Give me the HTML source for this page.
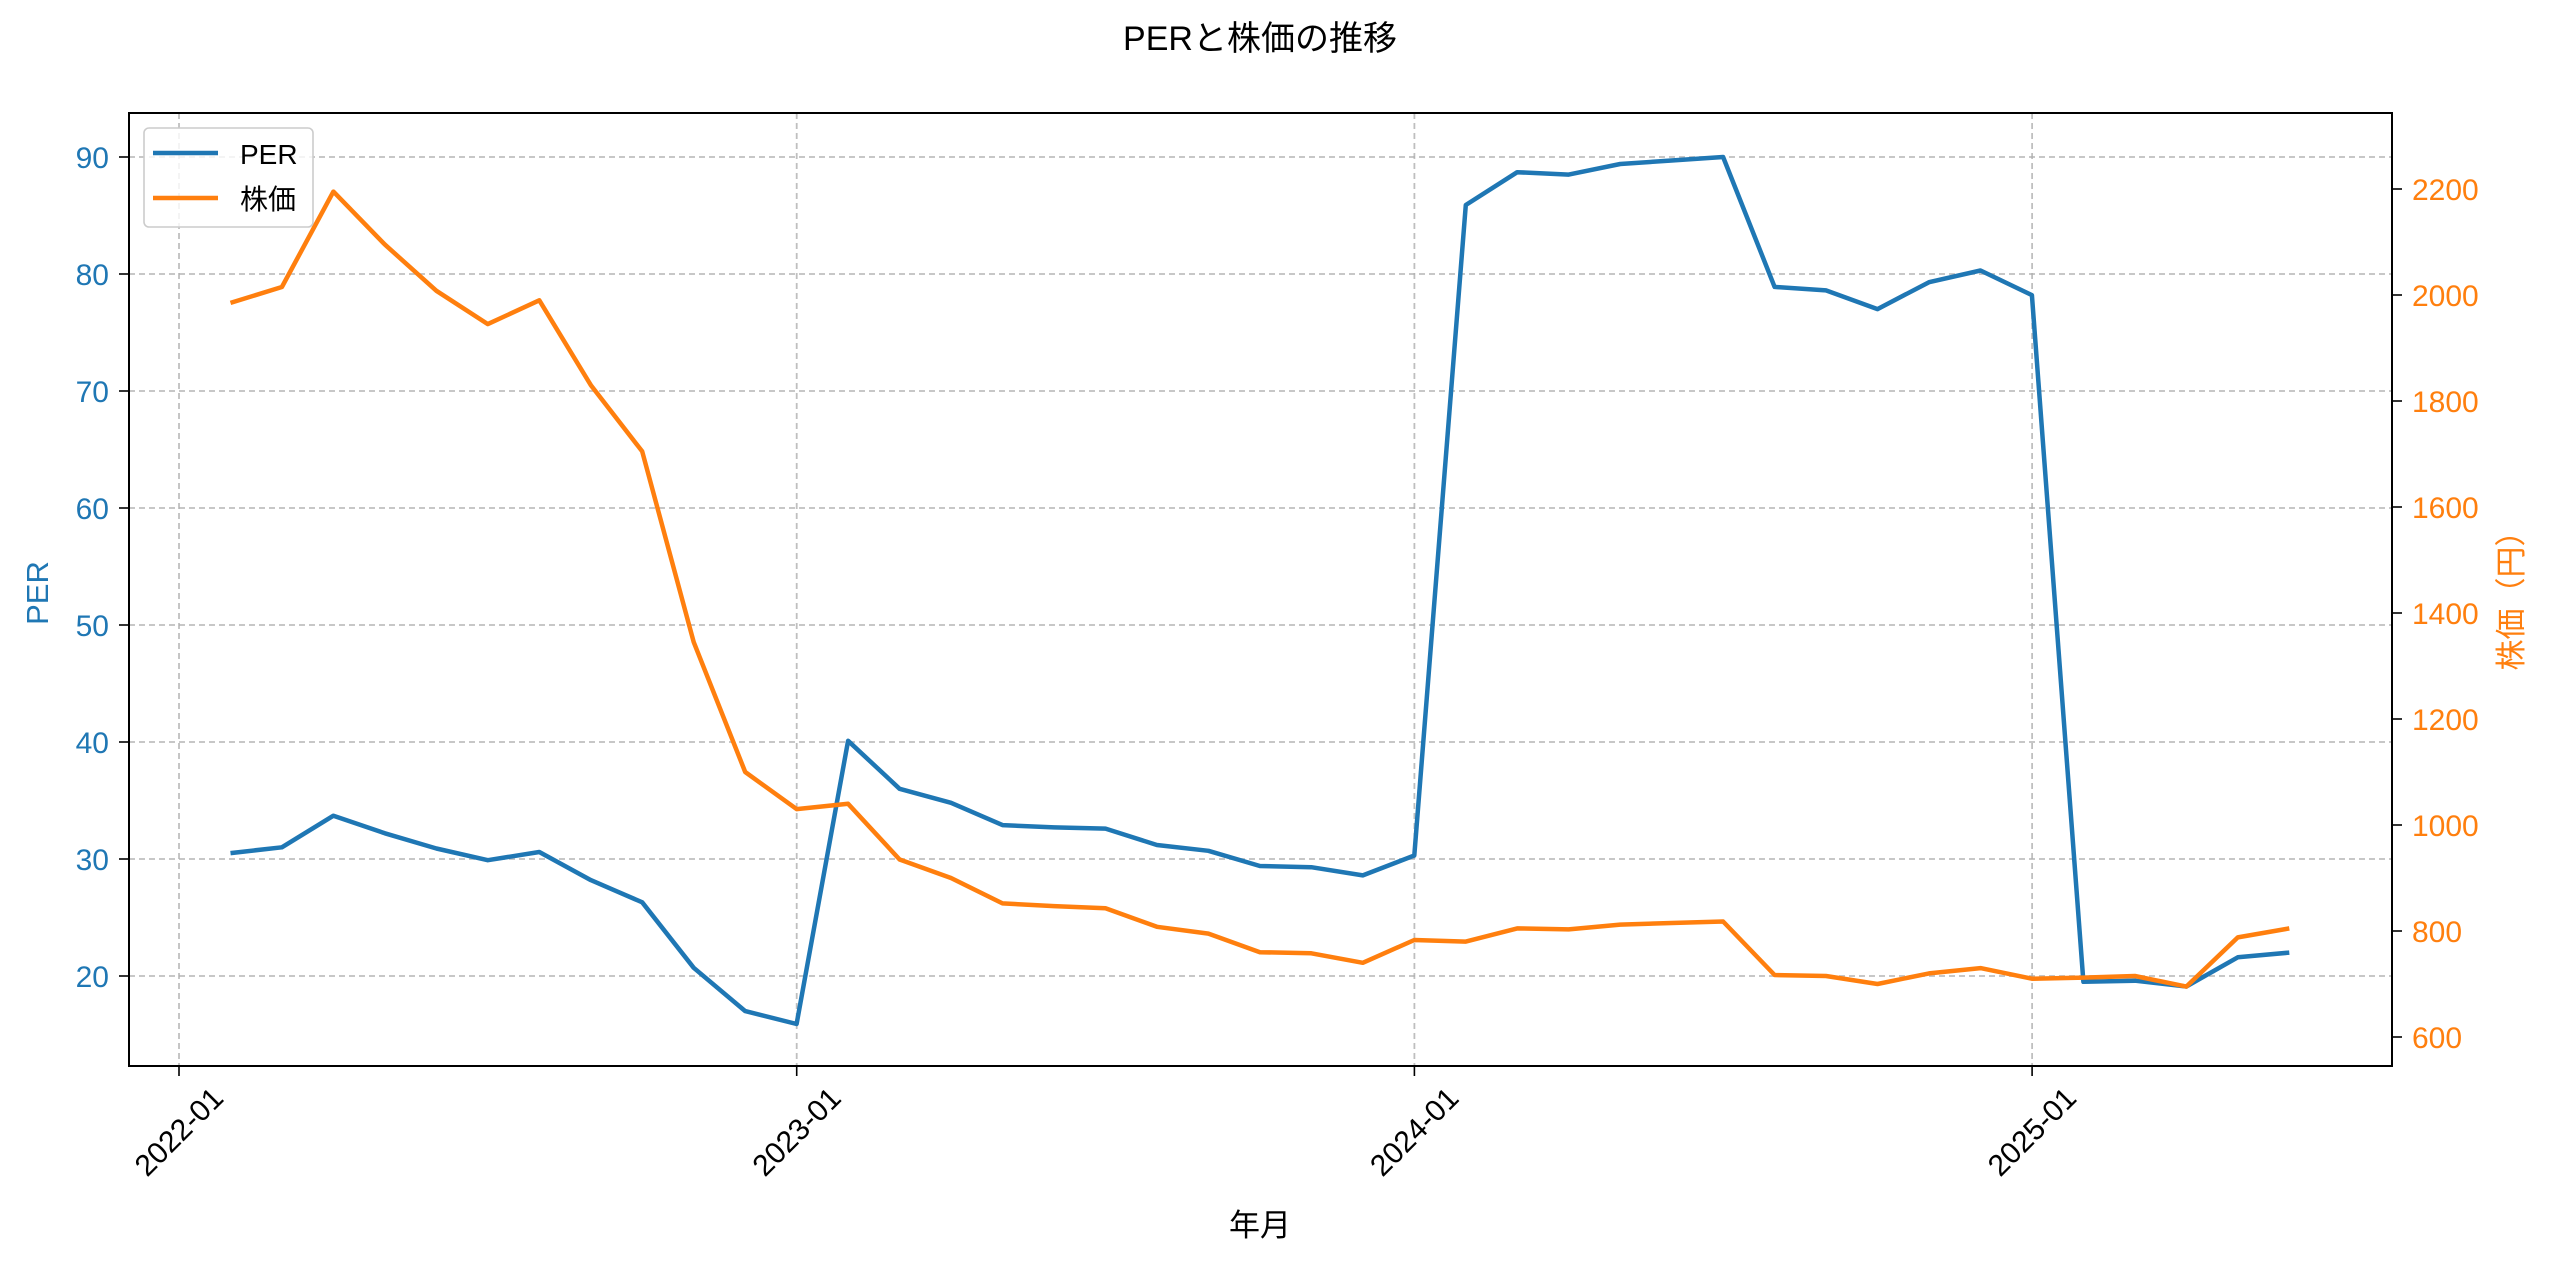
<!DOCTYPE html>
<html><head><meta charset="utf-8"><style>
html,body{margin:0;padding:0;background:#fff;}
svg text{font-family:"Liberation Sans","Noto Sans CJK JP",sans-serif;}
</style></head><body>
<svg id="s" width="2560" height="1269" xmlns="http://www.w3.org/2000/svg"></svg>
<script>
const per=[30.5,31,33.7,32.2,30.9,29.9,30.6,28.2,26.3,20.7,17.0,15.9,40.1,36.0,34.8,32.9,32.7,32.6,31.2,30.7,29.4,29.3,28.6,30.3,85.9,88.7,88.5,89.4,89.7,90.0,78.9,78.6,77.0,79.3,80.3,78.2,19.5,19.6,19.1,21.6,22.0];
const pr=[1985,2015,2195,2095,2008,1945,1990,1830,1705,1345,1100,1030,1040,935,900,852,847,843,808,795,760,758,740,783,780,805,803,812,815,818,717,715,700,720,730,710,712,715,695,788,805];
const L=129,R=2392,T=113,B=1066;
const X=i=>179+51.47*(i+1);
const YP=v=>157+(90-v)*11.7;
const YQ=p=>1037-(p-600)*0.53;
let h='';
for(let k=0;k<4;k++){const x=179+617.7*k;h+=`<line x1="${x}" y1="${T}" x2="${x}" y2="${B}" stroke="#b0b0b0" stroke-width="1.8" stroke-dasharray="6,4" opacity="0.8"/>`;}
for(let v=20;v<=90;v+=10){const y=YP(v);h+=`<line x1="${L}" y1="${y}" x2="${R}" y2="${y}" stroke="#b0b0b0" stroke-width="1.8" stroke-dasharray="6,4" opacity="0.8"/>`;
h+=`<line x1="${L-10}" y1="${y}" x2="${L}" y2="${y}" stroke="#000" stroke-width="1.6"/><text x="${L-20}" y="${y+11}" font-size="30" fill="#1f77b4" text-anchor="end">${v}</text>`;}
for(let p=600;p<=2200;p+=200){const y=YQ(p);h+=`<line x1="${R}" y1="${y}" x2="${R+10}" y2="${y}" stroke="#000" stroke-width="1.6"/><text x="${R+20}" y="${y+11}" font-size="30" fill="#ff7f0e">${p}</text>`;}
const yrs=['2022-01','2023-01','2024-01','2025-01'];
for(let k=0;k<4;k++){const x=179+617.7*k;h+=`<line x1="${x}" y1="${B}" x2="${x}" y2="${B+10}" stroke="#000" stroke-width="1.6"/><text transform="translate(${x+46},${B+34}) rotate(-45)" font-size="30" text-anchor="end">${yrs[k]}</text>`;}
const pl=(a,f,c)=>`<polyline fill="none" stroke="${c}" stroke-width="4.5" stroke-linejoin="round" points="${a.map((v,i)=>X(i).toFixed(1)+','+f(v).toFixed(1)).join(' ')}"/>`;
h+=pl(per,YP,'#1f77b4')+pl(pr,YQ,'#ff7f0e');
h+=`<rect x="${L}" y="${T}" width="${R-L}" height="${B-T}" fill="none" stroke="#000" stroke-width="2"/>`;
h+=`<rect x="144" y="128" width="169" height="99" rx="5" fill="#fff" fill-opacity="0.8" stroke="#ccc" stroke-width="1.6"/>`;
h+=`<line x1="153" y1="153" x2="218" y2="153" stroke="#1f77b4" stroke-width="4.5"/><text x="240" y="164" font-size="28">PER</text>`;
h+=`<line x1="153" y1="198" x2="218" y2="198" stroke="#ff7f0e" stroke-width="4.5"/><text x="240" y="209" font-size="28">株価</text>`;
h+=`<text x="1260" y="50" font-size="34" text-anchor="middle">PERと株価の推移</text>`;
h+=`<text x="1260" y="1236" font-size="31" text-anchor="middle">年月</text>`;
h+=`<text transform="translate(48,593) rotate(-90)" font-size="31" fill="#1f77b4" text-anchor="middle">PER</text>`;
h+=`<text transform="translate(2522,593) rotate(-90)" font-size="31" fill="#ff7f0e" text-anchor="middle">株価（円）</text>`;
document.getElementById('s').innerHTML=h;
</script>
</body></html>
